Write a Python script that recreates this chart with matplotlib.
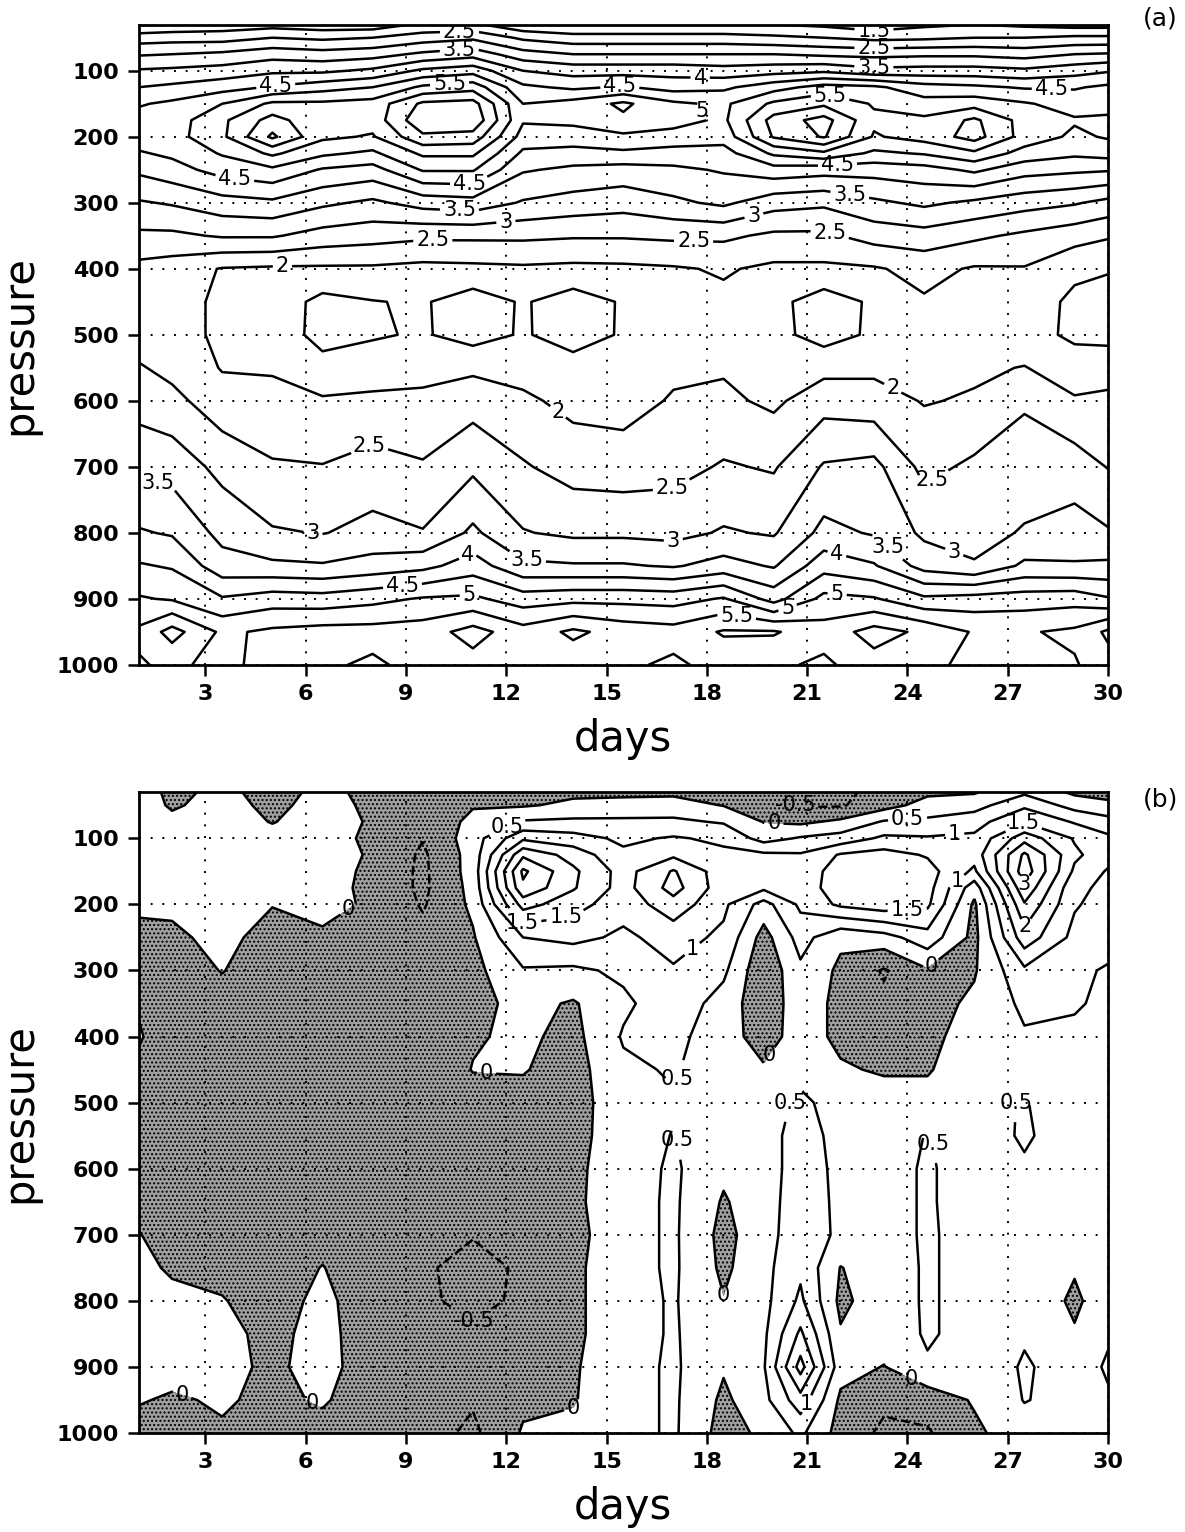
import numpy as np
import matplotlib
matplotlib.use('Agg')
from matplotlib import pyplot as plt

# ---- panel (a) ----
press_a = [30, 50, 75, 100, 125, 150, 175, 200, 225, 250, 300, 350, 400,
           450, 500, 550, 600, 700, 800, 850, 900, 950, 1000]
days_a = [1, 2, 3.5, 5, 6.5, 8, 9.5, 11, 12.5, 14, 15.5, 17, 18.5, 20,
          21.5, 23, 24.5, 26, 27.5, 29, 30]
field_a = [
    [1.5, 1.6, 1.7, 1.8, 1.7, 1.7, 2.1, 2.1, 1.6, 1.5, 1.5, 1.5, 1.5, 1.5, 1.4, 1.2, 1.4, 1.5, 1.4, 1.3, 1.3],
    [2.25, 2.3, 2.3, 2.5, 2.4, 2.5, 2.75, 2.9, 2.4, 2.2, 2.2, 2.2, 2.2, 2.1, 2.0, 1.85, 1.9, 2.0, 2.0, 2.1, 2.1],
    [2.95, 3.0, 3.1, 3.3, 3.2, 3.3, 3.6, 3.8, 3.2, 3.0, 3.0, 3.0, 3.0, 3.0, 2.9, 2.85, 2.9, 2.9, 2.8, 3.0, 3.05],
    [3.55, 3.6, 3.7, 3.9, 3.9, 4.1, 4.6, 4.8, 4.0, 3.8, 3.8, 3.8, 3.7, 3.8, 3.9, 3.65, 3.7, 3.7, 3.6, 3.8, 3.95],
    [4.0, 4.1, 4.3, 4.55, 4.8, 5.0, 5.6, 5.8, 4.6, 4.4, 4.55, 4.3, 4.4, 4.8, 5.2, 5.1, 4.7, 4.6, 4.45, 4.45, 4.6],
    [4.45, 4.6, 5.0, 5.6, 5.6, 5.7, 6.6, 6.7, 5.0, 5.2, 5.6, 5.1, 4.9, 5.6, 5.9, 5.45, 5.2, 5.3, 5.05, 4.8, 4.8],
    [4.7, 4.75, 5.4, 6.2, 5.6, 5.7, 6.9, 6.9, 5.05, 5.1, 5.4, 5.2, 4.9, 6.2, 6.7, 5.6, 5.6, 6.1, 5.3, 5.05, 5.1],
    [4.75, 4.8, 5.4, 6.6, 5.6, 5.45, 6.4, 6.3, 4.8, 4.8, 4.9, 4.8, 4.7, 6.05, 6.55, 5.45, 5.7, 6.2, 5.3, 4.9, 5.05],
    [4.45, 4.6, 5.05, 5.6, 5.1, 4.9, 5.6, 5.6, 4.4, 4.3, 4.4, 4.3, 4.3, 5.1, 5.4, 4.9, 5.05, 5.4, 4.8, 4.6, 4.7],
    [4.1, 4.3, 4.7, 4.9, 4.45, 4.3, 5.05, 5.05, 4.05, 3.9, 3.8, 3.9, 4.05, 4.3, 4.2, 4.2, 4.3, 4.6, 4.2, 4.1, 4.05],
    [3.45, 3.55, 3.8, 3.9, 3.6, 3.4, 3.7, 3.8, 3.45, 3.3, 3.2, 3.4, 3.6, 3.2, 3.1, 3.4, 3.6, 3.4, 3.2, 3.05, 2.85],
    [2.9, 2.9, 3.05, 3.05, 2.8, 2.7, 2.6, 2.6, 2.6, 2.55, 2.55, 2.6, 2.6, 2.4, 2.4, 2.7, 2.8, 2.6, 2.4, 2.2, 2.05],
    [2.35, 2.25, 1.97, 1.92, 1.92, 1.92, 1.85, 1.88, 1.92, 1.88, 1.9, 1.95, 2.05, 1.9, 1.9, 1.95, 2.15, 1.95, 1.97, 1.6, 1.55],
    [2.25, 2.2, 1.9, 1.8, 1.35, 1.48, 1.55, 1.25, 1.55, 1.25, 1.55, 1.75, 1.9, 1.65, 1.25, 1.58, 1.95, 1.85, 1.75, 1.4, 1.25],
    [2.25, 2.2, 1.9, 1.85, 1.3, 1.45, 1.55, 1.3, 1.55, 1.28, 1.55, 1.8, 1.9, 1.65, 1.3, 1.58, 1.9, 1.85, 1.7, 1.4, 1.35],
    [2.55, 2.35, 1.97, 1.95, 1.7, 1.75, 1.85, 1.9, 1.8, 1.7, 1.75, 1.9, 1.95, 1.8, 1.85, 1.9, 1.9, 1.92, 2.02, 1.75, 1.8],
    [2.78, 2.65, 2.2, 2.15, 2.05, 2.1, 2.1, 2.3, 2.1, 1.85, 1.8, 2.05, 2.1, 1.9, 2.3, 2.2, 1.97, 2.05, 2.45, 2.05, 2.1],
    [3.4, 3.3, 2.85, 2.55, 2.52, 2.7, 2.55, 2.9, 2.55, 2.3, 2.25, 2.33, 2.55, 2.45, 3.05, 3.15, 2.35, 2.6, 2.7, 2.75, 2.48],
    [4.05, 3.95, 3.35, 3.05, 2.98, 3.15, 3.03, 3.6, 3.03, 2.9, 2.9, 2.85, 3.05, 2.95, 3.65, 3.45, 2.9, 2.8, 3.05, 3.2, 3.05],
    [4.55, 4.45, 3.7, 3.6, 3.55, 3.7, 3.85, 4.25, 3.6, 3.55, 3.55, 3.45, 3.7, 3.45, 4.3, 4.05, 3.3, 3.05, 3.6, 3.55, 3.6],
    [5.05, 4.95, 4.55, 4.75, 4.7, 4.85, 5.05, 5.1, 4.75, 4.85, 4.85, 4.8, 5.05, 4.3, 5.15, 5.05, 4.6, 4.7, 4.75, 4.8, 4.55],
    [5.6, 6.2, 5.4, 5.6, 5.7, 5.7, 5.75, 6.2, 5.7, 6.1, 5.8, 5.7, 6.05, 6.05, 5.7, 6.2, 5.9, 5.45, 5.45, 5.6, 6.1],
    [5.45, 5.6, 5.35, 5.7, 5.6, 5.4, 5.7, 5.8, 5.6, 5.7, 5.6, 5.4, 5.7, 5.6, 5.4, 5.8, 5.6, 5.4, 5.3, 5.45, 5.8],
]

# ---- panel (b) ----
press_b = [30, 50, 75, 100, 125, 150, 175, 200, 250, 300, 350, 400, 450,
           500, 550, 600, 650, 700, 750, 800, 850, 900, 950, 1000]
days_b = [1, 2, 3.5, 5, 6.5, 8, 9.5, 11, 12.5, 14, 15.5, 17, 18.5, 19.7,
          20.8, 22, 23.3, 24.6, 26, 27.5, 29, 30]
field_b = [
    [0.2, -0.1, 0.1, -0.15, 0.1, -0.1, -0.2, -0.1, -0.15, -0.1, -0.1, -0.1, -0.15, -0.3, -0.55, -0.6, -0.35, -0.1, -0.05, 0.4, -0.1, -0.15],
    [0.2, -0.05, 0.15, -0.1, 0.15, -0.08, -0.25, -0.03, -0.05, 0.1, 0.15, 0.2, -0.02, -0.2, -0.55, -0.55, -0.2, 0.2, 0.3, 0.9, 0.3, 0.1],
    [0.2, 0.1, 0.2, -0.02, 0.2, -0.05, -0.3, 0.1, 0.55, 0.6, 0.6, 0.6, 0.45, -0.02, -0.1, 0.1, 0.55, 0.6, 0.8, 1.45, 0.95, 0.7],
    [0.25, 0.2, 0.25, 0.15, 0.1, -0.05, -0.48, 0.25, 1.4, 1.2, 0.9, 1.05, 0.9, 0.3, 0.55, 0.7, 1.1, 1.05, 1.1, 2.3, 1.45, 1.1],
    [0.25, 0.25, 0.3, 0.2, 0.2, -0.05, -0.58, 0.2, 2.4, 1.8, 1.1, 1.4, 1.1, 1.1, 1.05, 1.55, 1.7, 1.45, 1.2, 3.1, 1.6, 1.2],
    [0.25, 0.25, 0.3, 0.2, 0.2, -0.1, -0.6, 0.2, 3.1, 2.1, 1.3, 2.05, 1.2, 1.25, 1.25, 1.7, 1.9, 1.7, 0.9, 3.3, 1.4, 0.95],
    [0.2, 0.2, 0.3, 0.1, 0.15, -0.1, -0.6, 0.15, 2.9, 2.05, 1.3, 2.2, 1.2, 1.1, 1.25, 1.75, 1.95, 1.7, 0.2, 2.9, 1.1, 0.9],
    [0.1, 0.1, 0.25, 0.02, 0.1, -0.05, -0.55, 0.1, 2.2, 1.7, 1.2, 1.8, 1.1, 0.3, 1.1, 1.6, 1.8, 1.6, -0.1, 2.45, 1.05, 0.8],
    [-0.15, -0.1, 0.15, -0.2, -0.05, -0.15, -0.35, -0.05, 1.0, 1.15, 0.9, 1.2, 0.9, -0.2, 0.7, 0.1, 0.3, 0.8, -0.15, 1.8, 0.85, 0.7],
    [-0.2, -0.25, 0.02, -0.3, -0.25, -0.3, -0.35, -0.15, 0.45, 0.4, 0.6, 0.95, 0.6, -0.4, 0.4, -0.1, -0.55, -0.05, -0.05, 0.9, 0.6, 0.45],
    [-0.05, -0.3, -0.2, -0.35, -0.35, -0.35, -0.4, -0.15, 0.15, -0.05, 0.4, 0.8, 0.3, -0.35, 0.3, -0.15, -0.4, -0.2, 0.1, 0.6, 0.55, 0.4],
    [0.05, -0.3, -0.3, -0.4, -0.4, -0.4, -0.4, -0.05, 0.1, -0.15, 0.55, 0.65, 0.2, -0.2, 0.2, -0.1, -0.25, -0.15, 0.25, 0.45, 0.4, 0.35],
    [-0.1, -0.3, -0.35, -0.4, -0.4, -0.4, -0.4, 0.02, 0.03, -0.2, 0.4, 0.55, 0.2, 0.05, 0.35, 0.05, -0.05, -0.05, 0.35, 0.4, 0.35, 0.3],
    [-0.2, -0.3, -0.35, -0.4, -0.4, -0.4, -0.4, -0.2, -0.15, -0.2, 0.3, 0.45, 0.2, 0.25, 0.6, 0.3, 0.2, 0.2, 0.4, 0.52, 0.3, 0.3],
    [-0.2, -0.3, -0.35, -0.4, -0.4, -0.4, -0.4, -0.3, -0.25, -0.15, 0.25, 0.52, 0.15, 0.3, 0.7, 0.35, 0.3, 0.52, 0.3, 0.55, 0.3, 0.3],
    [-0.2, -0.3, -0.35, -0.4, -0.35, -0.4, -0.4, -0.35, -0.3, -0.1, 0.25, 0.58, 0.1, 0.3, 0.7, 0.4, 0.35, 0.55, 0.3, 0.45, 0.25, 0.3],
    [-0.15, -0.25, -0.3, -0.4, -0.3, -0.4, -0.35, -0.4, -0.35, -0.1, 0.3, 0.58, -0.05, 0.3, 0.75, 0.4, 0.35, 0.55, 0.3, 0.4, 0.3, 0.3],
    [0.02, -0.2, -0.25, -0.35, -0.2, -0.35, -0.4, -0.48, -0.4, -0.15, 0.3, 0.58, -0.15, 0.3, 0.8, 0.4, 0.35, 0.55, 0.35, 0.4, 0.2, 0.3],
    [0.1, -0.05, -0.15, -0.3, 0.02, -0.35, -0.45, -0.62, -0.45, -0.1, 0.3, 0.58, -0.1, 0.35, 0.9, -0.02, 0.3, 0.55, 0.35, 0.4, 0.05, 0.3],
    [0.15, 0.1, 0.03, -0.25, 0.15, -0.35, -0.45, -0.58, -0.45, -0.1, 0.3, 0.55, 0.02, 0.35, 1.1, -0.12, 0.3, 0.55, 0.35, 0.4, -0.1, 0.3],
    [0.15, 0.2, 0.15, -0.15, 0.2, -0.35, -0.4, -0.45, -0.35, -0.1, 0.3, 0.55, 0.15, 0.4, 1.6, 0.05, 0.25, 0.55, 0.35, 0.45, 0.05, 0.45],
    [0.15, 0.15, 0.15, -0.1, 0.2, -0.3, -0.35, -0.35, -0.25, -0.05, 0.3, 0.58, 0.05, 0.45, 2.2, 0.2, -0.02, 0.45, 0.2, 0.55, 0.3, 0.55],
    [0.03, -0.05, 0.05, -0.1, 0.05, -0.25, -0.3, -0.45, -0.1, -0.03, 0.3, 0.58, -0.1, 0.35, 1.3, -0.1, -0.4, -0.3, 0.05, 0.52, 0.35, 0.45],
    [-0.15, -0.2, -0.05, -0.15, -0.15, -0.2, -0.3, -0.6, 0.05, 0.1, 0.3, 0.58, -0.2, 0.1, 0.6, -0.2, -0.6, -0.55, -0.1, 0.3, 0.3, 0.3],
]

levels_a = [1.5, 2, 2.5, 3, 3.5, 4, 4.5, 5, 5.5, 6, 6.5, 7]
levels_b = [-0.5, 0, 0.5, 1, 1.5, 2, 2.5, 3]
day_ticks = [3, 6, 9, 12, 15, 18, 21, 24, 27, 30]
p_ticks = [100, 200, 300, 400, 500, 600, 700, 800, 900, 1000]

# where the contour labels sit (day, hPa)
label_pos_a = [(10.6, 42), (10.6, 72), (10.3, 118), (5.1, 122), (3.9, 252),
               (10.9, 272), (10.6, 310), (12.0, 336), (9.8, 360),
               (15.4, 126), (17.8, 108), (18.0, 158), (17.6, 367),
               (23.0, 40), (23.0, 65), (23.0, 92), (21.7, 135),
               (21.9, 237), (22.3, 280), (19.4, 318), (21.7, 342),
               (28.3, 140), (5.3, 390), (7.9, 668), (13.6, 613),
               (23.6, 577), (17.0, 754), (25.0, 744), (1.6, 719),
               (6.2, 810), (17.0, 823), (25.3, 843), (12.6, 843),
               (23.6, 810), (10.9, 840), (21.9, 830), (8.9, 884),
               (20.4, 911), (10.9, 901), (21.9, 891), (18.9, 922)]
label_pos_b = [(7.3, 209), (11.9, 70), (12.5, 227), (13.8, 227), (17.6, 270),
               (20.0, 82), (20.2, 54), (24.0, 67), (25.4, 85), (27.4, 70),
               (24.0, 214), (25.5, 166), (27.5, 176), (27.7, 240),
               (25.0, 311), (11.4, 465), (17.3, 468), (20.0, 433),
               (17.0, 558), (20.3, 498), (24.9, 561), (26.9, 498),
               (18.9, 807), (11.3, 857), (24.3, 897), (20.9, 953),
               (2.3, 943), (6.3, 943), (14.3, 973)]

fig = plt.figure(figsize=(11.85, 15.32), dpi=100)
ax_a = fig.add_axes([0.117, 0.566, 0.818, 0.418])
ax_b = fig.add_axes([0.117, 0.0646, 0.818, 0.4184])


def style_axes(ax):
    ax.set_xlim(1, 30)
    ax.set_ylim(1000, 30)
    ax.set_xticks(day_ticks)
    ax.set_yticks(p_ticks)
    ax.set_axisbelow(False)
    ax.grid(True, color='k', linestyle=(0, (1, 5)), linewidth=1.4)
    ax.tick_params(direction='out', length=8, width=1.8, labelsize=16, pad=6)
    for lbl in ax.get_xticklabels() + ax.get_yticklabels():
        lbl.set_fontweight('bold')
    for sp in ax.spines.values():
        sp.set_linewidth(2)
    ax.set_xlabel('days', fontsize=30, labelpad=10)
    ax.set_ylabel('pressure', fontsize=30, labelpad=12)


def label_contours(ax, cs, positions):
    texts = ax.clabel(cs, fmt='%g', fontsize=15, inline=True,
                      inline_spacing=3, manual=positions)
    for t in texts:
        t.set_rotation(0)


style_axes(ax_a)
style_axes(ax_b)

# (a)
D, P = np.meshgrid(days_a, press_a)
cs_a = ax_a.contour(D, P, np.array(field_a), levels=levels_a, colors='k',
                    linewidths=1.8)
label_contours(ax_a, cs_a, label_pos_a)

# (b)
D, P = np.meshgrid(days_b, press_b)
Zb = np.array(field_b)
ax_b.contourf(D, P, Zb, levels=[-5, 0], colors=['#a0a0a0'], hatches=['....'])
cs_b = ax_b.contour(D, P, Zb, levels=levels_b, colors='k', linewidths=1.8)
label_contours(ax_b, cs_b, label_pos_b)

for ax in (ax_a, ax_b):
    ax.set_xlim(1, 30)
    ax.set_ylim(1000, 30)

fig.text(0.979, 0.988, '(a)', ha='center', va='center', fontsize=18)
fig.text(0.979, 0.478, '(b)', ha='center', va='center', fontsize=18)

fig.savefig('out.png', dpi=100)
